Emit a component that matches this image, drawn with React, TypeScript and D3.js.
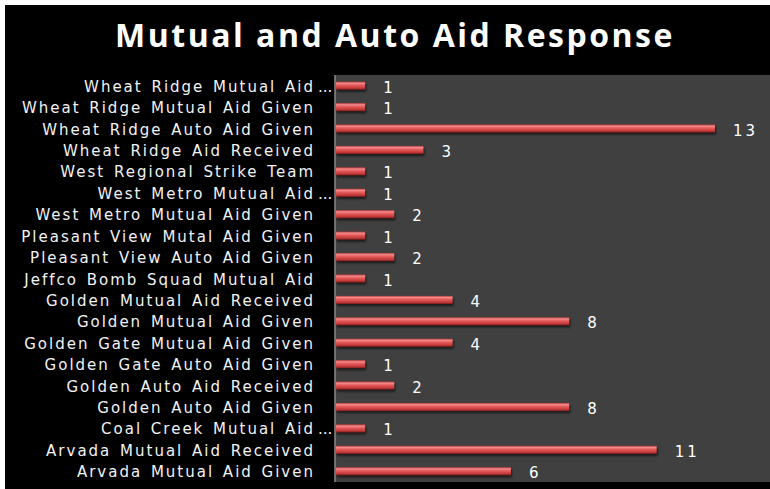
import * as d3 from 'd3'
import React from 'react'

// top to bottom, as shown
const categories = [
  'Wheat Ridge Mutual Aid',
  'Wheat Ridge Mutual Aid Given',
  'Wheat Ridge Auto Aid Given',
  'Wheat Ridge Aid Received',
  'West Regional Strike Team',
  'West Metro Mutual Aid',
  'West Metro Mutual Aid Given',
  'Pleasant View Mutal Aid Given',
  'Pleasant View Auto Aid Given',
  'Jeffco Bomb Squad Mutual Aid',
  'Golden Mutual Aid Received',
  'Golden Mutual Aid Given',
  'Golden Gate Mutual Aid Given',
  'Golden Gate Auto Aid Given',
  'Golden Auto Aid Received',
  'Golden Auto Aid Given',
  'Coal Creek Mutual Aid',
  'Arvada Mutual Aid Received',
  'Arvada Mutual Aid Given',
]
const truncated = [true, false, false, false, false, true, false, false, false, false, false, false, false, false, false, false, true, false, false]
const values = [1, 1, 13, 3, 1, 1, 2, 1, 2, 1, 4, 8, 4, 1, 2, 8, 1, 11, 6]
const title = 'Mutual and Auto Aid Response'

const W = 770, H = 489
const plot = { left: 335, top: 75, right: 770, bottom: 482 }
const labelFont = '"DejaVu Sans", sans-serif'

export default function App() {
  const
    y = d3.scaleBand<number>().domain(d3.range(categories.length)).range([plot.top, plot.bottom]).paddingInner(0.62).paddingOuter(0.31),
    x = d3.scaleLinear().domain([0, 13]).range([plot.left + 1, 715]),
    bh = y.bandwidth()

  return (
    <div style={{ position: 'fixed', left: 0, top: 0 }}>
      <svg width={W} height={H} style={{ display: 'block' }}>
        <defs>
          <linearGradient id='bar' x1='0' y1='0' x2='0' y2='1'>
            <stop offset='0' stopColor='#b83a3a' />
            <stop offset='0.2' stopColor='#f28a8a' />
            <stop offset='0.45' stopColor='#e55a5a' />
            <stop offset='0.8' stopColor='#c03838' />
            <stop offset='1' stopColor='#7a1c1c' />
          </linearGradient>
          <filter id='sh' x='-10%' y='-50%' width='130%' height='250%'>
            <feGaussianBlur stdDeviation='1.2' />
          </filter>
        </defs>
        <rect width={W} height={H} fill='#ffffff' />
        <rect x={5} y={5} width={W - 5} height={H - 5} fill='#000000' />
        <text x={395} y={47} textAnchor='middle' fill='#ffffff' fontFamily='"Open Sans", sans-serif' fontWeight={700} fontSize={32} letterSpacing={2.5}>{title}</text>
        <rect x={plot.left} y={plot.top} width={plot.right - plot.left} height={plot.bottom - plot.top} fill='#404040' />
        <line x1={plot.left} x2={plot.left} y1={plot.top} y2={plot.bottom} stroke='#8a8a8a' strokeWidth={1.5} />
        {values.map((v, i) => {
          const y0 = y(i)!
          return (
            <g key={i}>
              <rect x={x(0) + 1} y={y0 + 2} width={x(v) - x(0)} height={bh} fill='#000' opacity={0.6} filter='url(#sh)' />
              <rect x={x(0)} y={y0} width={x(v) - x(0)} height={bh} fill='url(#bar)' />
              <text x={x(v) + 18} y={y0 + bh / 2 + 7} fill='#ffffff' fontFamily={labelFont} fontSize={15} letterSpacing={3}>{v}</text>
              <text x={315} y={y0 + bh / 2 + 6} textAnchor='end' fill='#f2f2f2' fontFamily={labelFont} fontSize={15} letterSpacing={2} wordSpacing={2}>{categories[i]}</text>
              {truncated[i] && (
                <text x={318} y={y0 + bh / 2 + 6} fill='#f2f2f2' fontFamily={labelFont} fontSize={15}>...</text>
              )}
            </g>
          )
        })}
      </svg>
    </div>
  )
}
